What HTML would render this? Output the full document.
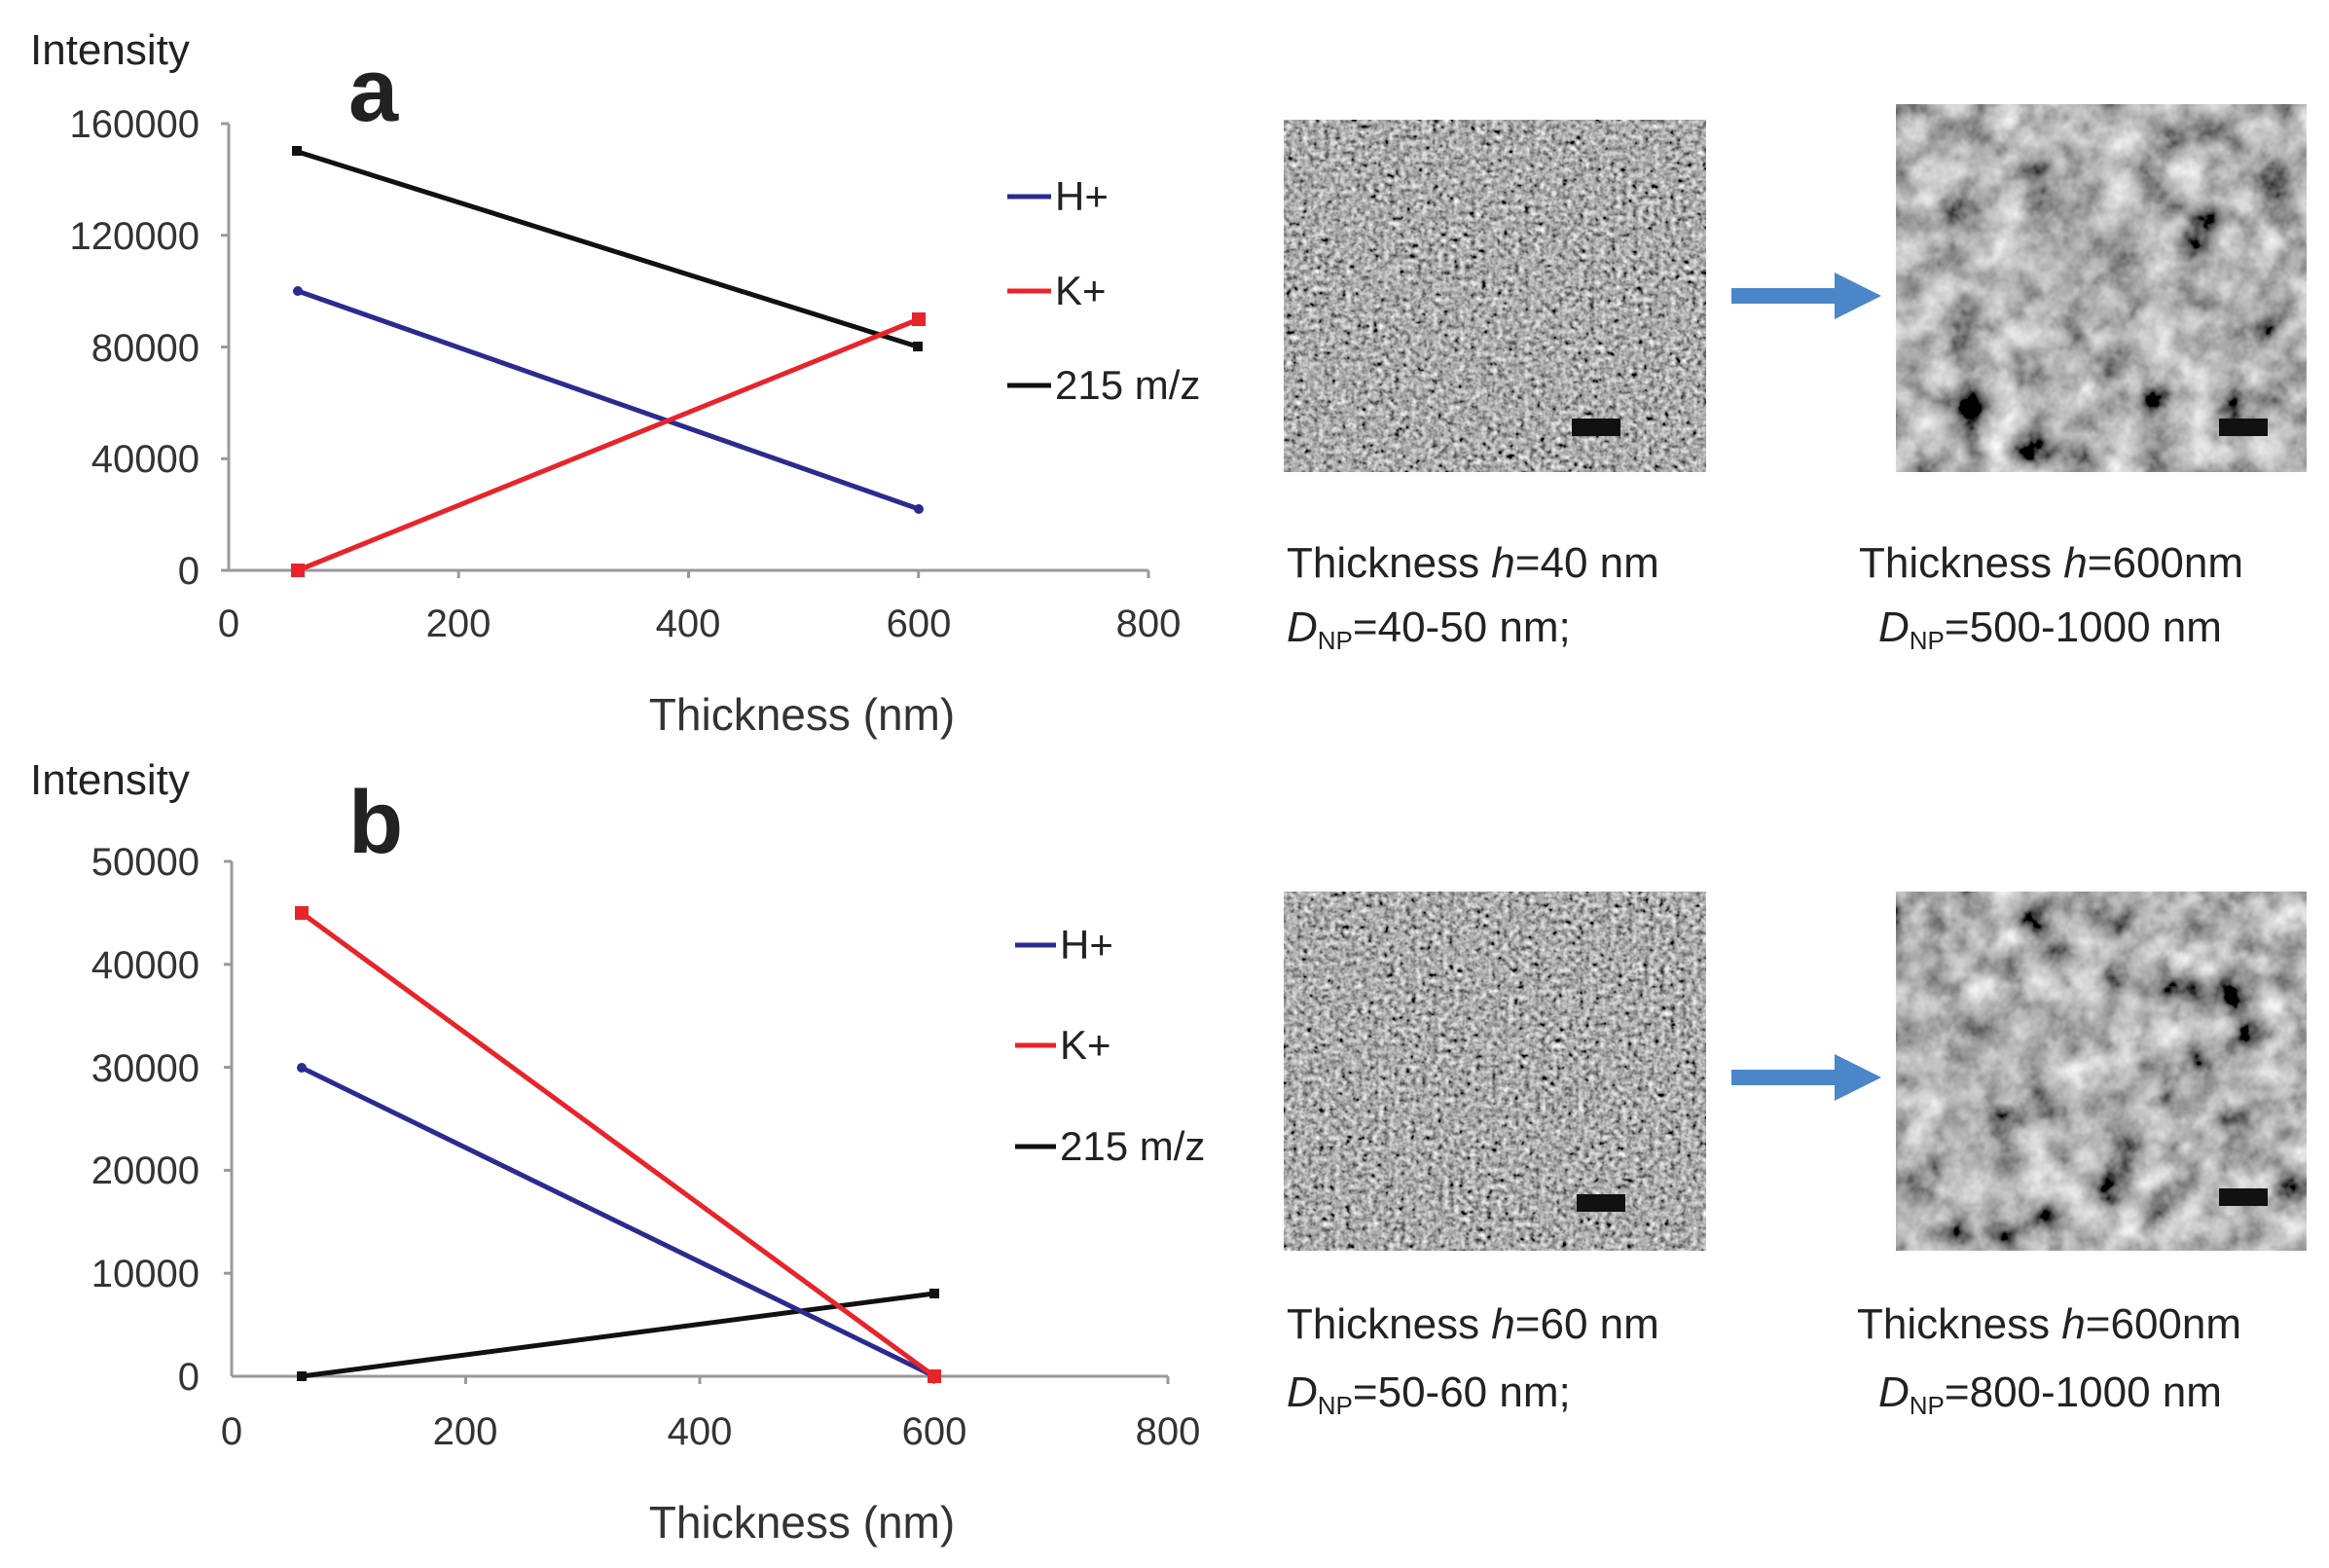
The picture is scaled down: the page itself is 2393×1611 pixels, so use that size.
<!DOCTYPE html>
<html><head><meta charset="utf-8"><style>
html,body{margin:0;padding:0;background:#fff;}
svg{display:block;}
text{font-family:"Liberation Sans",sans-serif;}
</style></head><body>
<svg width="2393" height="1611" viewBox="0 0 2393 1611" xmlns="http://www.w3.org/2000/svg">
<defs>
<filter id="n1" x="0" y="0" width="100%" height="100%"><feTurbulence type="fractalNoise" baseFrequency="0.18" numOctaves="2" seed="3"/><feColorMatrix type="matrix" values="0.33 0.33 0.33 0 0  0.33 0.33 0.33 0 0  0.33 0.33 0.33 0 0  0 0 0 0 1"/><feComponentTransfer><feFuncR type="linear" slope="2.2" intercept="-0.68"/><feFuncG type="linear" slope="2.2" intercept="-0.68"/><feFuncB type="linear" slope="2.2" intercept="-0.68"/></feComponentTransfer></filter>
<filter id="n2" x="0" y="0" width="100%" height="100%"><feTurbulence type="fractalNoise" baseFrequency="0.025" numOctaves="4" seed="7"/><feColorMatrix type="matrix" values="0.33 0.33 0.33 0 0  0.33 0.33 0.33 0 0  0.33 0.33 0.33 0 0  0 0 0 0 1"/><feComponentTransfer><feFuncR type="linear" slope="2.4" intercept="-0.75"/><feFuncG type="linear" slope="2.4" intercept="-0.75"/><feFuncB type="linear" slope="2.4" intercept="-0.75"/></feComponentTransfer></filter>
</defs>
<g fill="#222">
<text x="31" y="66" font-size="44">Intensity</text>
<text x="358" y="124" font-size="92" font-weight="bold">a</text>
<text x="31" y="816" font-size="44">Intensity</text>
<text x="358" y="876" font-size="92" font-weight="bold">b</text>
</g>
<!-- Chart a -->
<g stroke="#999" stroke-width="3" fill="none">
<line x1="235" y1="127" x2="235" y2="586"/><line x1="235" y1="586" x2="1180" y2="586"/>
<line x1="227" y1="127" x2="235" y2="127"/><line x1="227" y1="241.75" x2="235" y2="241.75"/><line x1="227" y1="356.5" x2="235" y2="356.5"/><line x1="227" y1="471.25" x2="235" y2="471.25"/><line x1="227" y1="586" x2="235" y2="586"/>
<line x1="471.2" y1="586" x2="471.2" y2="594"/><line x1="707.5" y1="586" x2="707.5" y2="594"/><line x1="943.7" y1="586" x2="943.7" y2="594"/><line x1="1180" y1="586" x2="1180" y2="594"/>
</g>
<g font-size="40" fill="#333" text-anchor="end">
<text x="205" y="141">160000</text><text x="205" y="256">120000</text><text x="205" y="371">80000</text><text x="205" y="485">40000</text><text x="205" y="600">0</text>
</g>
<g font-size="40" fill="#333" text-anchor="middle">
<text x="235" y="654">0</text><text x="471" y="654">200</text><text x="707" y="654">400</text><text x="944" y="654">600</text><text x="1180" y="654">800</text>
<text x="824" y="750" font-size="46">Thickness (nm)</text>
</g>
<g stroke-width="5">
<line x1="306" y1="156" x2="944" y2="356.5" stroke="#111"/>
<line x1="306" y1="299" x2="944" y2="523" stroke="#2b2b8f"/>
<line x1="306" y1="586" x2="944" y2="328" stroke="#e8242a"/>
</g>
<rect x="300" y="150" width="10" height="10" fill="#111"/><rect x="938" y="351" width="10" height="10" fill="#111"/>
<circle cx="306" cy="299" r="5" fill="#2b2b8f"/><circle cx="944" cy="523" r="5" fill="#2b2b8f"/>
<rect x="299" y="579" width="14" height="14" fill="#e8242a"/><rect x="937" y="321" width="14" height="14" fill="#e8242a"/>
<g stroke-width="5"><line x1="1035" y1="202" x2="1080" y2="202" stroke="#2b2b8f"/><line x1="1035" y1="299" x2="1080" y2="299" stroke="#e8242a"/><line x1="1035" y1="396" x2="1080" y2="396" stroke="#111"/></g>
<g font-size="42" fill="#222"><text x="1084" y="216">H+</text><text x="1084" y="313">K+</text><text x="1084" y="410">215 m/z</text></g>
<!-- Chart b -->
<g stroke="#999" stroke-width="3" fill="none">
<line x1="238" y1="885" x2="238" y2="1414"/><line x1="238" y1="1414" x2="1200" y2="1414"/>
<line x1="230" y1="885" x2="238" y2="885"/><line x1="230" y1="990.8" x2="238" y2="990.8"/><line x1="230" y1="1096.6" x2="238" y2="1096.6"/><line x1="230" y1="1202.4" x2="238" y2="1202.4"/><line x1="230" y1="1308.2" x2="238" y2="1308.2"/>
<line x1="478.5" y1="1414" x2="478.5" y2="1422"/><line x1="719" y1="1414" x2="719" y2="1422"/><line x1="959.5" y1="1414" x2="959.5" y2="1422"/><line x1="1200" y1="1414" x2="1200" y2="1422"/>
</g>
<g font-size="40" fill="#333" text-anchor="end">
<text x="205" y="899">50000</text><text x="205" y="1005">40000</text><text x="205" y="1111">30000</text><text x="205" y="1216">20000</text><text x="205" y="1322">10000</text><text x="205" y="1428">0</text>
</g>
<g font-size="40" fill="#333" text-anchor="middle">
<text x="238" y="1484">0</text><text x="478" y="1484">200</text><text x="719" y="1484">400</text><text x="960" y="1484">600</text><text x="1200" y="1484">800</text>
<text x="824" y="1580" font-size="46">Thickness (nm)</text>
</g>
<g stroke-width="5">
<line x1="310" y1="1414" x2="960" y2="1329" stroke="#111"/>
<line x1="310" y1="1097" x2="960" y2="1414" stroke="#2b2b8f"/>
<line x1="310" y1="938" x2="960" y2="1414" stroke="#e8242a"/>
</g>
<rect x="305" y="1409" width="10" height="10" fill="#111"/><rect x="955" y="1324" width="10" height="10" fill="#111"/>
<circle cx="310" cy="1097" r="5" fill="#2b2b8f"/>
<rect x="303" y="931" width="14" height="14" fill="#e8242a"/><rect x="953" y="1407" width="14" height="14" fill="#e8242a"/>
<g stroke-width="5"><line x1="1043" y1="971" x2="1085" y2="971" stroke="#2b2b8f"/><line x1="1043" y1="1074" x2="1085" y2="1074" stroke="#e8242a"/><line x1="1043" y1="1178" x2="1085" y2="1178" stroke="#111"/></g>
<g font-size="42" fill="#222"><text x="1089" y="985">H+</text><text x="1089" y="1088">K+</text><text x="1089" y="1192">215 m/z</text></g>
<!-- SEM images -->
<rect x="1319" y="123" width="434" height="362" fill="#777" filter="url(#n1)"/>
<rect x="1948" y="107" width="422" height="378" fill="#888" filter="url(#n2)"/>
<rect x="1319" y="916" width="434" height="369" fill="#777" filter="url(#n1)"/>
<rect x="1948" y="916" width="422" height="369" fill="#888" filter="url(#n2)"/>
<g fill="#111"><rect x="1615" y="430" width="50" height="18"/><rect x="2280" y="430" width="50" height="18"/><rect x="1620" y="1227" width="50" height="18"/><rect x="2280" y="1221" width="50" height="18"/></g>
<!-- arrows -->
<g fill="#4a86c8"><rect x="1779" y="296" width="110" height="16"/><polygon points="1885,280 1933,304 1885,328"/>
<rect x="1779" y="1099" width="110" height="16"/><polygon points="1885,1083 1933,1107 1885,1131"/></g>
<!-- captions -->
<g font-size="44" fill="#222">
<text x="1322" y="593">Thickness <tspan font-style="italic">h</tspan>=40 nm</text>
<text x="1322" y="659"><tspan font-style="italic">D</tspan><tspan font-size="26" dy="8">NP</tspan><tspan dy="-8">=40-50 nm;</tspan></text>
<text x="1910" y="593">Thickness <tspan font-style="italic">h</tspan>=600nm</text>
<text x="1930" y="659"><tspan font-style="italic">D</tspan><tspan font-size="26" dy="8">NP</tspan><tspan dy="-8">=500-1000 nm</tspan></text>
<text x="1322" y="1375">Thickness <tspan font-style="italic">h</tspan>=60 nm</text>
<text x="1322" y="1445"><tspan font-style="italic">D</tspan><tspan font-size="26" dy="8">NP</tspan><tspan dy="-8">=50-60 nm;</tspan></text>
<text x="1908" y="1375">Thickness <tspan font-style="italic">h</tspan>=600nm</text>
<text x="1930" y="1445"><tspan font-style="italic">D</tspan><tspan font-size="26" dy="8">NP</tspan><tspan dy="-8">=800-1000 nm</tspan></text>
</g>
</svg>
</body></html>
